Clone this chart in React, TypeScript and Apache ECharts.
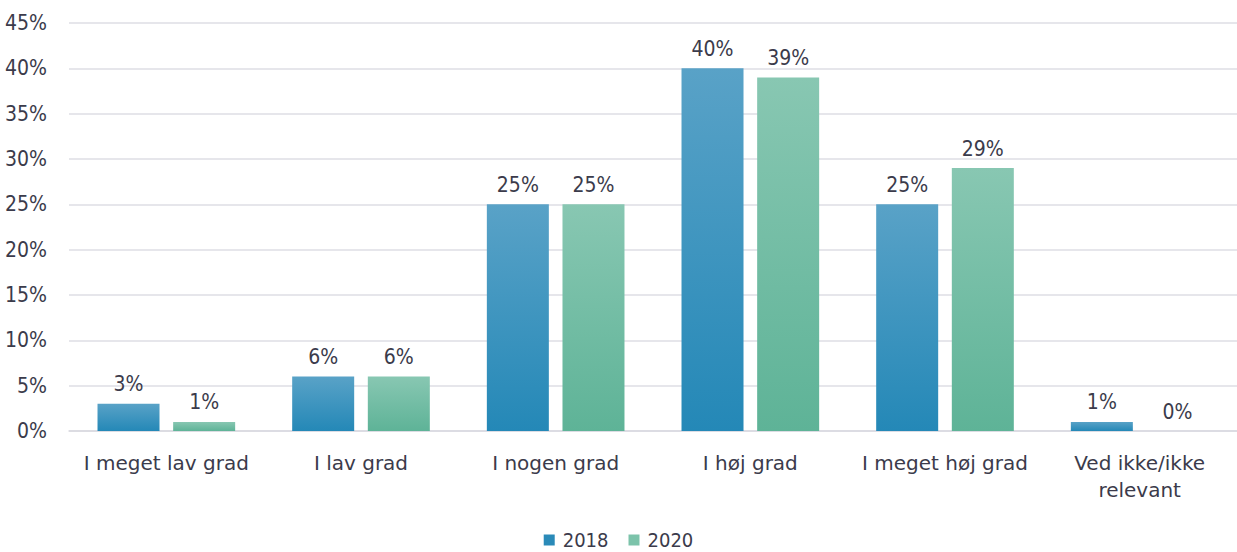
import React, { useEffect, useRef } from "react";
import * as echarts from "echarts";

const categories = ["I meget lav grad", "I lav grad", "I nogen grad", "I høj grad", "I meget høj grad", "Ved ikke/ikke\nrelevant"];
const series2018 = [3, 6, 25, 40, 25, 1];
const series2020 = [1, 6, 25, 39, 29, 0];
const seriesNames = ["2018", "2020"];

const FONT = "'DejaVu Sans', sans-serif";
const NUMFONT = "'DejaVu Sans Condensed', 'DejaVu Sans', sans-serif";
const TXT = "#3b3b4b";

export default function App() {
  const ref = useRef<HTMLDivElement>(null);
  useEffect(() => {
    const chart = echarts.init(ref.current!, null, { renderer: "svg" });
    const grad = (top: string, bottom: string) =>
      new echarts.graphic.LinearGradient(0, 0, 0, 1, [
        { offset: 0, color: top },
        { offset: 1, color: bottom },
      ]);
    const labelOpt = { show: true, position: "top", formatter: "{c}%", fontSize: 21, color: TXT, distance: 9, fontFamily: NUMFONT };
    chart.setOption({
      animation: false,
      textStyle: { fontFamily: FONT },
      grid: { left: 69, right: -11, top: 23, bottom: 121 },
      legend: {
        top: 529,
        left: "center",
        padding: 0,
        itemWidth: 11,
        itemHeight: 11,
        itemGap: 20,
        icon: "rect",
        textStyle: { fontSize: 20, lineHeight: 22, color: TXT, fontFamily: NUMFONT, padding: [0, 0, 0, 3] },
        data: [
          { name: seriesNames[0], itemStyle: { color: "#2a8ab8" } },
          { name: seriesNames[1], itemStyle: { color: "#7cc3aa" } },
        ],
      },
      xAxis: {
        type: "category",
        data: categories,
        axisTick: { show: false },
        axisLine: { lineStyle: { color: "#d9d9e0", width: 1.5 } },
        axisLabel: { interval: 0, fontSize: 20, color: TXT, margin: 18, lineHeight: 27, fontFamily: FONT },
      },
      yAxis: {
        type: "value",
        min: 0,
        max: 45,
        interval: 5,
        axisLabel: { formatter: "{value}%", fontSize: 21, color: TXT, margin: 22, fontFamily: NUMFONT },
        splitLine: { lineStyle: { color: "#dedee5", width: 1.5 } },
      },
      series: [
        {
          name: seriesNames[0],
          type: "bar",
          data: series2018,
          barWidth: 62,
          barGap: "22%",
          itemStyle: { color: grad("#59a2c7", "#2488b7") },
          label: labelOpt,
        },
        {
          name: seriesNames[1],
          type: "bar",
          data: series2020,
          barWidth: 62,
          itemStyle: { color: grad("#88c7b2", "#5eb397") },
          label: labelOpt,
        },
      ],
    });
    return () => chart.dispose();
  }, []);
  return <div ref={ref} style={{ width: 1237, height: 552, position: "absolute", left: 0, top: 0 }} />;
}
